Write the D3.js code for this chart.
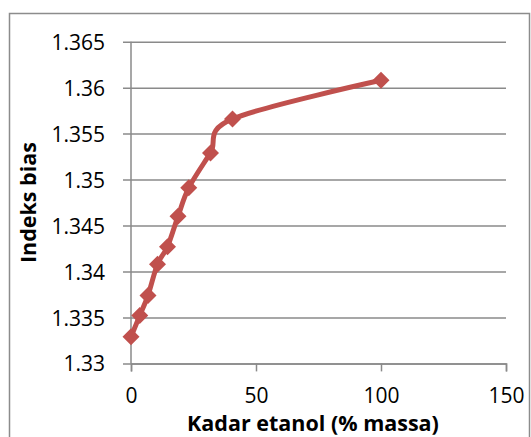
<!DOCTYPE html>
<html>
<head>
<meta charset="utf-8">
<script src="https://cdn.jsdelivr.net/npm/d3@7"></script>
<style>
  html, body { margin: 0; padding: 0; background: #fff; }
  svg { display: block; }
  text { font-family: "Open Sans", Lato, sans-serif; fill: #000; }
</style>
</head>
<body>
<svg id="chart" width="531" height="437"></svg>
<script>
// Ethanol content (% mass) and measured refractive index
const kadarEtanol = [0, 3.5, 6.8, 10.6, 14.6, 18.8, 23.1, 31.8, 40.6, 100];
const indeksBias  = [1.3329, 1.3352, 1.3374, 1.3408, 1.3427, 1.3460, 1.3491, 1.3529, 1.3566, 1.3608];

const xTicks = [0, 50, 100, 150];
const yTicks = [1.33, 1.335, 1.34, 1.345, 1.35, 1.355, 1.36, 1.365];
const yTickLabels = ["1.33", "1.335", "1.34", "1.345", "1.35", "1.355", "1.36", "1.365"];

const xTitle = "Kadar etanol (% massa)";
const yTitle = "Indeks bias";

const svg = d3.select("#chart");
const plot = { left: 131, right: 506, top: 41.7, bottom: 363.4 };
const gridColor = "#8a8a8a";
const seriesColor = "#C0504D";

// chart frame
svg.append("rect")
  .attr("x", 9.5).attr("y", 13.5)
  .attr("width", 520).attr("height", 440)
  .attr("fill", "#fff").attr("stroke", "#8c8c8c").attr("stroke-width", 1.5);

const x = d3.scaleLinear().domain([0, 150]).range([plot.left, plot.right]);
const y = d3.scaleLinear().domain([1.33, 1.365]).range([plot.bottom, plot.top]);

// horizontal gridlines with y axis ticks
const yAxis = d3.axisLeft(y)
  .tickValues(yTicks)
  .tickFormat((d, i) => yTickLabels[i])
  .tickSize(-(plot.right - plot.left))
  .tickPadding(0);

const gy = svg.append("g")
  .attr("transform", `translate(${plot.left},0)`)
  .call(yAxis);
gy.select(".domain").remove();
gy.selectAll(".tick line")
  .attr("x1", -8)
  .attr("stroke", gridColor).attr("stroke-width", 1.5);
gy.selectAll(".tick text")
  .attr("x", -26)
  .attr("dy", "0.36em")
  .style("font-size", "21px");

// vertical axis line
svg.append("line")
  .attr("x1", plot.left).attr("x2", plot.left)
  .attr("y1", plot.top).attr("y2", plot.bottom)
  .attr("stroke", gridColor).attr("stroke-width", 1.5);

// x axis
const xAxis = d3.axisBottom(x)
  .tickValues(xTicks)
  .tickFormat(d3.format("d"))
  .tickSizeOuter(0)
  .tickSize(8)
  .tickPadding(17);
const gx = svg.append("g")
  .attr("transform", `translate(0,${plot.bottom})`)
  .call(xAxis);
gx.select(".domain").attr("stroke", gridColor).attr("stroke-width", 1.5);
gx.selectAll(".tick line").attr("stroke", gridColor).attr("stroke-width", 1.5);
gx.selectAll(".tick text").style("font-size", "21px").attr("dy", "0.71em");

// axis titles
svg.append("text")
  .attr("x", 313)
  .attr("y", 430.5)
  .attr("text-anchor", "middle")
  .style("font-size", "21.5px").style("font-weight", "bold")
  .text(xTitle);

svg.append("text")
  .attr("transform", `translate(36,${(plot.top + plot.bottom) / 2}) rotate(-90)`)
  .attr("text-anchor", "middle")
  .style("font-size", "21.5px").style("font-weight", "bold")
  .text(yTitle);

// series
const pts = kadarEtanol.map((k, i) => [x(k), y(indeksBias[i])]);

svg.append("path")
  .attr("d", d3.line().curve(d3.curveCardinal.tension(0))(pts))
  .attr("fill", "none")
  .attr("stroke", seriesColor)
  .attr("stroke-width", 5)
  .attr("stroke-linejoin", "round");

const r = 8.5;
svg.append("g").selectAll("path")
  .data(pts)
  .join("path")
  .attr("d", ([px, py]) => `M${px},${py - r}L${px + r},${py}L${px},${py + r}L${px - r},${py}Z`)
  .attr("fill", seriesColor);
</script>
</body>
</html>
